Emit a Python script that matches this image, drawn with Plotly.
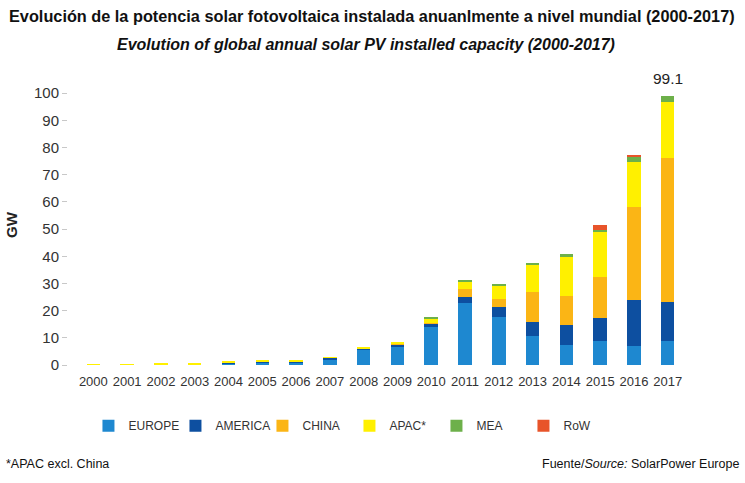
import plotly.graph_objects as go

years = [str(y) for y in range(2000, 2018)]
europe  = [0.05, 0.05, 0.15, 0.2, 0.7, 0.8, 1.0, 2.1, 5.6, 6.9, 13.9, 22.7, 17.8, 10.7, 7.4, 8.8, 7.0, 8.9]
america = [0.02, 0.05, 0.05, 0.1, 0.15, 0.55, 0.2, 0.5, 0.4, 0.7, 1.2, 2.4, 3.4, 5.1, 7.3, 8.6, 16.9, 14.4]
china   = [0.02, 0.02, 0.05, 0.05, 0.05, 0.05, 0.05, 0.05, 0.05, 0.2, 0.5, 2.7, 3.2, 11.2, 10.7, 15.1, 34.3, 52.7]
apac    = [0.2, 0.2, 0.3, 0.35, 0.35, 0.2, 0.4, 0.2, 0.6, 0.6, 1.4, 2.8, 4.8, 10.1, 14.4, 16.3, 16.5, 20.8]
mea     = [0.0, 0.0, 0.0, 0.0, 0.0, 0.0, 0.0, 0.0, 0.0, 0.0, 0.3, 0.5, 0.3, 0.5, 1.2, 0.8, 2.1, 2.3]
row     = [0.0, 0.0, 0.0, 0.0, 0.0, 0.0, 0.0, 0.0, 0.0, 0.0, 0.0, 0.0, 0.0, 0.0, 0.0, 1.9, 0.2, 0.0]

series = [
    ("EUROPE", europe, "#1E88D0"),
    ("AMERICA", america, "#0D4FA0"),
    ("CHINA", china, "#FBB515"),
    ("APAC*", apac, "#FFF000"),
    ("MEA", mea, "#6DB04A"),
    ("RoW", row, "#E8542A"),
]

total_label_year = "2017"
total_label_text = "99.1"
total_label_value = 99.1

W, H = 745, 483
ML, MR, MT, MB = 68, 57, 85, 118
plot_w = W - ML - MR
plot_h = H - MT - MB

def px_x(pix):
    return (pix - ML) / plot_w

def px_y(pix):
    return (H - MB - pix) / plot_h

FONT = "Liberation Sans, Arial, sans-serif"

fig = go.Figure()
for name, vals, col in series:
    fig.add_trace(go.Bar(x=years, y=vals, name=name,
                         marker=dict(color=col, line=dict(width=0))))

fig.add_annotation(x=years.index(total_label_year), y=total_label_value, text=total_label_text,
                   showarrow=False, yanchor="bottom", yshift=7,
                   font=dict(family=FONT, size=15.5, color="#222"))

fig.update_layout(
    barmode="stack",
    bargap=0.6,
    width=W, height=H,
    margin=dict(l=ML, r=MR, t=MT, b=MB),
    paper_bgcolor="white", plot_bgcolor="white",
    showlegend=True,
    legend=dict(orientation="h", x=0.033, xanchor="left", y=-0.165, yanchor="top",
                font=dict(family=FONT, size=12, color="#333"),
                entrywidth=42, entrywidthmode="pixels", traceorder="normal"),
    xaxis=dict(type="category", range=[-0.75, 17.6], showline=False, showgrid=False,
               ticks="outside", ticklen=4, tickcolor="rgba(0,0,0,0)",
               tickfont=dict(family=FONT, size=13, color="#333")),
    yaxis=dict(range=[0, 103], showline=False, showgrid=False, zeroline=False,
               ticks="outside", ticklen=5, tickcolor="#c8c8c8", tickwidth=1,
               tickvals=[0, 10, 20, 30, 40, 50, 60, 70, 80, 90, 100],
               tickfont=dict(family=FONT, size=15, color="#333"),
               title=dict(text="<b>GW</b>", standoff=12,
                          font=dict(family=FONT, size=15, color="#222"))),
)

fig.add_annotation(xref="paper", yref="paper", x=px_x(372), y=px_y(16),
                   xanchor="center", yanchor="middle", showarrow=False,
                   text="<b>Evolución de la potencia solar fotovoltaica instalada anuanlmente a nivel mundial (2000-2017)</b>",
                   font=dict(family=FONT, size=16.3, color="#111"))
fig.add_annotation(xref="paper", yref="paper", x=px_x(366), y=px_y(44),
                   xanchor="center", yanchor="middle", showarrow=False,
                   text="<b><i>Evolution of global annual solar PV installed capacity (2000-2017)</i></b>",
                   font=dict(family=FONT, size=16, color="#111"))

fig.add_annotation(xref="paper", yref="paper", x=px_x(4), y=px_y(464),
                   xanchor="left", yanchor="middle", showarrow=False,
                   text="*APAC excl. China",
                   font=dict(family=FONT, size=12.5, color="#111"))
fig.add_annotation(xref="paper", yref="paper", x=px_x(741), y=px_y(464),
                   xanchor="right", yanchor="middle", showarrow=False,
                   text="Fuente/<i>Source:</i> SolarPower Europe",
                   font=dict(family=FONT, size=12.5, color="#111"))

fig.write_html("out.html")
